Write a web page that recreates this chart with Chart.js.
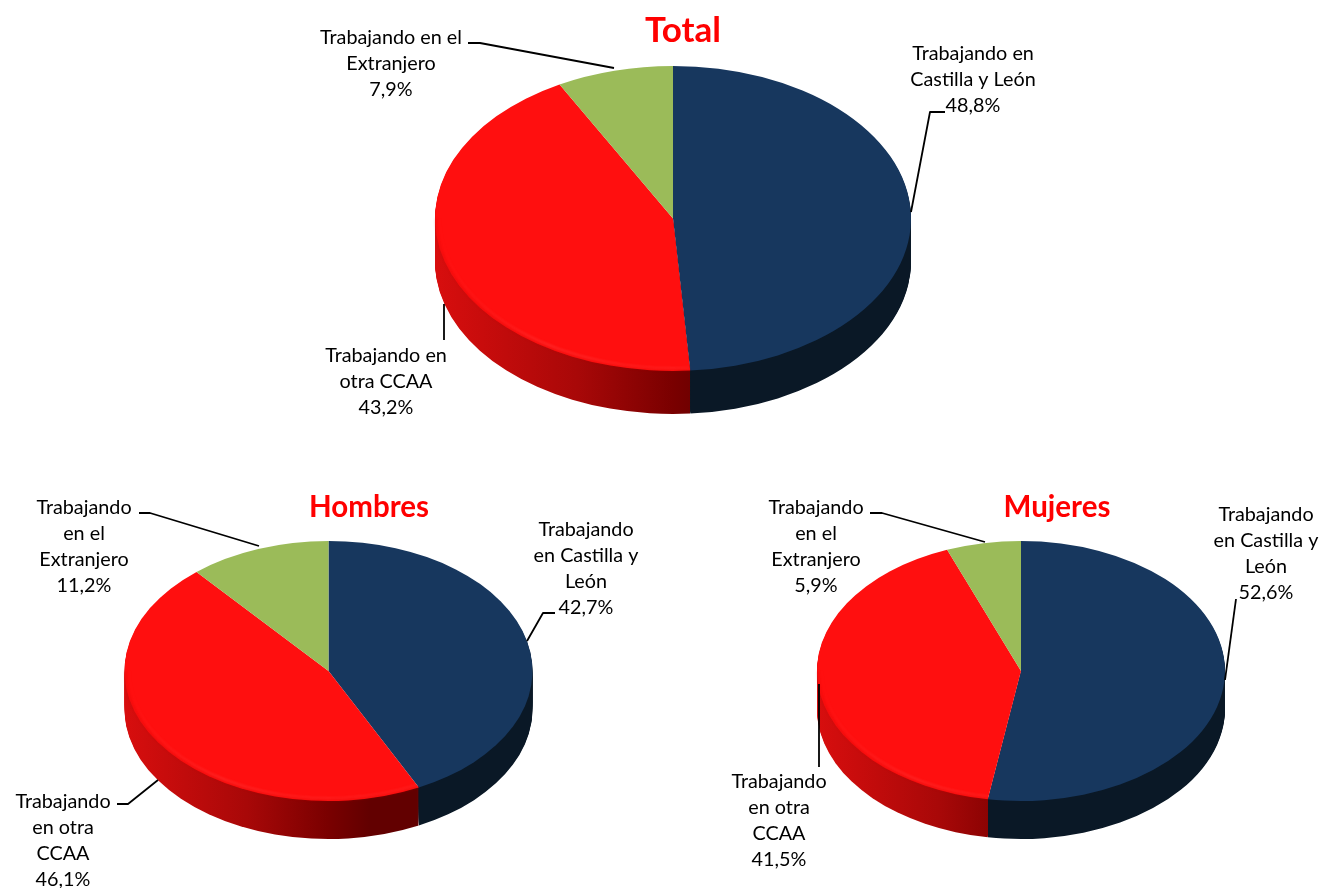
<!DOCTYPE html>
<html><head><meta charset="utf-8">
<style>html,body{margin:0;padding:0;background:#fff}
#wrap{position:relative;width:1320px;height:888px;overflow:hidden}
canvas{position:absolute;left:0;top:0}</style>
<script src="https://cdn.jsdelivr.net/npm/chart.js@4"></script>
</head><body><div id="wrap">
<canvas id="cTotal"></canvas><canvas id="cHombres"></canvas><canvas id="cMujeres"></canvas>
</div>
<script>
const categories = ['Trabajando en Castilla y León','Trabajando en otra CCAA','Trabajando en el Extranjero'];
const valuesTotal = [48.8, 43.2, 7.9];
const valuesHombres = [42.7, 46.1, 11.2];
const valuesMujeres = [52.6, 41.5, 5.9];
const wrapTotal = [['Trabajando en','Castilla y León'],['Trabajando en','otra CCAA'],['Trabajando en el','Extranjero']];
const wrapHombres = [['Trabajando','en Castilla y','León'],['Trabajando','en otra','CCAA'],['Trabajando','en el','Extranjero']];
const wrapMujeres = wrapHombres;
const sliceColors = ['#17375E','#FF0F0F','#9BBB59'];

const W = 1320, H = 888, FONT = 'Lato, Carlito, sans-serif';
const wallStops = [
  [[0,'#0A1826'],[1,'#0A1826']],
  [[0,'#D80E0E'],[0.5,'#A80808'],[0.83,'#7A0000'],[1,'#620000']],
  [[0,'#6F8A3E'],[1,'#6F8A3E']]
];

const pie3d = {
  id: 'pie3d',
  beforeDatasetsDraw(chart, args, o) {
    const ctx = chart.ctx, els = chart.getDatasetMeta(0).data;
    const cx = els[0].x, cy = els[0].y;
    // side wall: only the part of each slice on the front half shows
    els.forEach((el, i) => {
      const R = el.outerRadius;
      const lo = Math.max(el.startAngle, 0), hi = Math.min(el.endAngle, Math.PI);
      if (hi <= lo) return;
      const x0 = cx + R * Math.cos(hi), x1 = cx + R * Math.cos(lo);
      const g = ctx.createLinearGradient(cx - R, 0, cx + R * 0.2, 0);
      wallStops[i].forEach(s => g.addColorStop(s[0], s[1]));
      const saved = el.options;
      const alt = Object.create(saved);
      alt.backgroundColor = g;
      el.options = alt;
      ctx.save();
      ctx.beginPath();
      ctx.rect(x0, 0, x1 - x0, H);
      ctx.clip();
      for (let d = o.depth; d >= 1; d--) {
        ctx.save();
        ctx.translate(cx, cy + d);
        ctx.scale(1, o.squash);
        ctx.translate(-cx, -cy);
        el.draw(ctx);
        ctx.restore();
      }
      ctx.restore();
      el.options = saved;
    });
    ctx.save();
    ctx.translate(cx, cy);
    ctx.scale(1, o.squash);
    ctx.translate(-cx, -cy);
  },
  afterDatasetsDraw(chart, args, o) {
    const ctx = chart.ctx, els = chart.getDatasetMeta(0).data;
    const el = els[1], cx = el.x, cy = el.y, R = el.outerRadius;
    const from = Math.max(el.startAngle, 0), to = Math.min(el.endAngle, Math.PI);
    // soft bevel on the rim of the red slice
    if (to > from) {
      ctx.save();
      ctx.filter = 'blur(0.8px)';
      ctx.beginPath(); ctx.arc(cx, cy, R - 1, from, to);
      ctx.strokeStyle = 'rgba(200,10,10,0.35)'; ctx.lineWidth = 1.5; ctx.stroke();
      const g = ctx.createLinearGradient(cx - R, 0, cx + R * 0.2, 0);
      g.addColorStop(0, 'rgba(255,70,70,0.0)');
      g.addColorStop(0.4, 'rgba(255,80,80,0.4)');
      g.addColorStop(1, 'rgba(255,70,70,0.3)');
      ctx.beginPath(); ctx.arc(cx, cy, R - 4.5, from, to);
      ctx.strokeStyle = g; ctx.lineWidth = 2.5; ctx.stroke();
      ctx.restore();
    }
    ctx.restore();
    // leader lines
    ctx.save();
    ctx.strokeStyle = '#000'; ctx.lineWidth = 1.8; ctx.lineJoin = 'round';
    o.leaders.forEach(pts => {
      ctx.beginPath();
      pts.forEach((p, i) => i ? ctx.lineTo(p[0], p[1]) : ctx.moveTo(p[0], p[1]));
      ctx.stroke();
    });
    // data labels
    ctx.fillStyle = '#000';
    ctx.font = o.labelSize + 'px ' + FONT;
    ctx.textAlign = 'center'; ctx.textBaseline = 'middle';
    const vals = chart.data.datasets[0].data;
    o.labelPos.forEach((pos, i) => {
      const lines = o.wrap[i].concat(vals[i].toFixed(1).replace('.', ',') + '%');
      lines.forEach((t, k) => ctx.fillText(t, pos[0], pos[1] + k * o.lineH));
    });
    // title
    ctx.fillStyle = '#FF0000';
    ctx.font = 'bold ' + o.titleSize + 'px ' + FONT;
    ctx.fillText(o.title, o.titlePos[0], o.titlePos[1]);
    ctx.restore();
  }
};

function makePie(id, title, values, wrap, g) {
  const box = 100;
  new Chart(document.getElementById(id), {
    type: 'pie',
    data: { labels: categories, datasets: [{ data: values, backgroundColor: sliceColors, borderWidth: 0, clip: false, hoverOffset: 0 }] },
    options: {
      responsive: false, animation: false, events: [],
      radius: g.rx, rotation: 0,
      layout: { padding: { left: g.cx - box, right: W - g.cx - box, top: g.cy - box, bottom: H - g.cy - box } },
      plugins: {
        legend: { display: false }, tooltip: { enabled: false },
        pie3d: { title, squash: g.ry / g.rx, depth: g.depth, wrap, labelSize: g.labelSize, lineH: g.lineH,
                 labelPos: g.labelPos, leaders: g.leaders, titleSize: g.titleSize, titlePos: g.titlePos }
      }
    },
    plugins: [pie3d]
  });
}
['cTotal','cHombres','cMujeres'].forEach(i => { const c = document.getElementById(i); c.width = W; c.height = H; });

makePie('cTotal', 'Total', valuesTotal, wrapTotal, {
  cx: 673, cy: 218.5, rx: 238, ry: 152.5, depth: 43, labelSize: 19.8, lineH: 26,
  labelPos: [[973, 54], [386, 356], [391, 38]],
  leaders: [[[945,112],[930,112],[911,212]], [[444,340],[444,304]], [[468,43],[480,43],[614,68]]],
  titleSize: 35, titlePos: [683, 31]
});
makePie('cHombres', 'Hombres', valuesHombres, wrapHombres, {
  cx: 328.5, cy: 671, rx: 204, ry: 130, depth: 38, labelSize: 19.8, lineH: 26,
  labelPos: [[586, 530], [63, 802], [84, 508]],
  leaders: [[[555,613],[543,613],[527,641]], [[117,804],[128,804],[158,780]], [[139,513],[150,513],[259,546]]],
  titleSize: 29.5, titlePos: [369, 507]
});
makePie('cMujeres', 'Mujeres', valuesMujeres, wrapMujeres, {
  cx: 1021, cy: 671, rx: 204, ry: 130, depth: 38, labelSize: 19.8, lineH: 26,
  labelPos: [[1266, 515], [779, 782], [816, 508]],
  leaders: [[[1236,599],[1225,680]], [[819,767],[819,684]], [[870,513],[882,513],[985,542]]],
  titleSize: 29.5, titlePos: [1057, 507]
});
</script></body></html>
